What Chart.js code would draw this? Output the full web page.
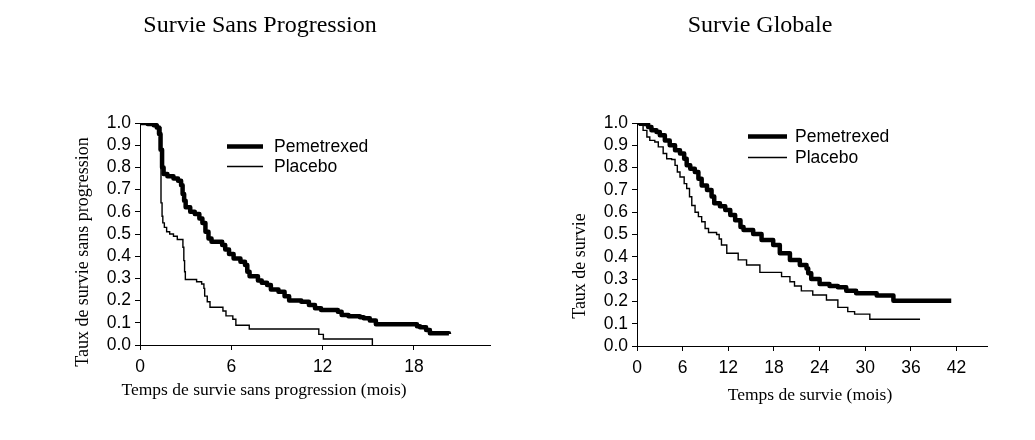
<!DOCTYPE html>
<html><head><meta charset="utf-8">
<script src="https://cdn.jsdelivr.net/npm/chart.js@4/dist/chart.umd.min.js"></script>
<style>
html,body{margin:0;padding:0;background:#fff;}
#wrap{position:relative;width:1035px;height:440px;background:#fff;}
.box{position:absolute;top:0;height:440px;}
</style></head><body>
<div id="wrap">
<div class="box" style="left:0;width:517px"><canvas id="c1" width="517" height="440"></canvas></div>
<div class="box" style="left:517px;width:518px"><canvas id="c2" width="518" height="440"></canvas></div>
</div>
<script>
// ---- Data (months, survival probability) ----
const seriesLabels = ['Pemetrexed', 'Placebo'];

const pfsPemMonths = [0,0.5,0.9,1.1,1.25,1.35,1.45,1.55,1.8,2.2,2.5,2.7,2.8,2.9,3.0,3.3,3.6,3.9,4.1,4.3,4.5,4.7,5.4,5.6,5.85,6.15,6.6,6.9,7.05,7.2,7.75,8.0,8.35,8.6,9.1,9.5,9.8,10.6,11.1,11.5,11.9,13.0,13.25,13.7,14.45,14.7,15.1,15.5,18.2,18.4,18.8,19.05,20.3];
const pfsPemSurv   = [1.0,0.995,0.99,0.98,0.95,0.88,0.80,0.77,0.76,0.75,0.74,0.72,0.68,0.65,0.62,0.60,0.59,0.57,0.55,0.51,0.48,0.465,0.45,0.43,0.41,0.39,0.375,0.36,0.33,0.31,0.29,0.28,0.27,0.25,0.24,0.22,0.20,0.195,0.18,0.165,0.158,0.15,0.135,0.13,0.125,0.12,0.11,0.093,0.085,0.08,0.068,0.053,0.05];

const pfsPlaMonths = [0,0.8,1.2,1.38,1.45,1.5,1.6,1.75,1.95,2.2,2.45,2.82,2.88,2.93,2.98,3.72,4.05,4.2,4.25,4.42,4.6,5.45,5.65,6.1,6.3,7.18,11.75,12.05,15.27];
const pfsPlaSurv   = [1.0,0.99,0.98,0.64,0.58,0.55,0.53,0.51,0.50,0.49,0.475,0.44,0.38,0.33,0.295,0.285,0.275,0.255,0.22,0.195,0.17,0.153,0.131,0.116,0.089,0.072,0.048,0.027,0.0];

const osPemMonths = [0,1.0,1.46,1.9,2.56,3.0,3.66,4.3,5.0,5.65,6.2,6.53,7.0,7.6,8.07,8.5,9.2,9.8,10.15,10.9,11.6,12.26,12.9,13.6,14.0,15.27,16.37,17.9,18.77,20.1,21.4,22.28,22.5,22.9,24.0,25.3,26.4,27.5,28.8,31.5,33.7,41.3];
const osPemSurv   = [1.0,0.995,0.982,0.967,0.96,0.945,0.922,0.90,0.878,0.863,0.84,0.81,0.795,0.78,0.75,0.72,0.70,0.67,0.64,0.627,0.61,0.587,0.564,0.534,0.52,0.502,0.475,0.453,0.416,0.386,0.363,0.348,0.326,0.30,0.278,0.269,0.263,0.248,0.236,0.226,0.203,0.203];

const osPlaMonths = [0,0.35,0.8,1.3,1.68,2.34,2.8,3.44,3.9,4.55,5.0,5.3,5.65,6.2,6.53,6.9,7.2,7.63,8.07,8.5,8.95,9.4,10.46,10.8,11.1,11.8,13.3,14.4,16.15,19.0,20.1,20.7,21.6,23.1,24.9,26.4,27.7,28.6,30.6,37.2];
const osPlaSurv   = [1.0,0.99,0.967,0.937,0.922,0.915,0.893,0.863,0.84,0.836,0.81,0.78,0.758,0.728,0.706,0.669,0.63,0.60,0.58,0.557,0.527,0.509,0.50,0.48,0.453,0.416,0.386,0.363,0.33,0.311,0.288,0.269,0.247,0.229,0.206,0.173,0.154,0.143,0.12,0.12];

const pfsXTicks = [0,6,12,18];
const osXTicks  = [0,6,12,18,24,30,36,42];
const yTicks    = [0,0.1,0.2,0.3,0.4,0.5,0.6,0.7,0.8,0.9,1.0];
const pfsXMax = 23;
const osXMax  = 46;

// ---- helpers ----
const SANS = "'Liberation Sans', Arial, sans-serif";
const SERIF = "'Liberation Serif', 'Times New Roman', serif";
const toPts = (t, s) => t.map((x, i) => ({x: x, y: s[i]}));

const textPlugin = {
  id: 'texts',
  afterDraw(chart, args, o) {
    const ctx = chart.ctx;
    ctx.save();
    ctx.fillStyle = '#000';
    ctx.textBaseline = 'alphabetic';
    ctx.textAlign = 'center';
    ctx.font = '24px ' + SERIF;
    ctx.fillText(o.title, o.titleX, o.titleY);
    ctx.font = '17.5px ' + SERIF;
    ctx.fillText(o.xTitle, o.xTitleX, o.xTitleY);
    ctx.translate(o.yTitleX, o.yTitleY);
    ctx.rotate(-Math.PI / 2);
    ctx.font = '18px ' + SERIF;
    ctx.textBaseline = 'middle';
    ctx.fillText(o.yTitle, 0, 0);
    ctx.restore();
    // legend
    ctx.save();
    ctx.font = '17.5px ' + SANS;
    ctx.textAlign = 'left';
    ctx.textBaseline = 'middle';
    chart.data.datasets.forEach((ds, i) => {
      const y = Math.round(o.legendY[i]) + 0.5;
      ctx.strokeStyle = ds.borderColor;
      ctx.lineWidth = ds.borderWidth;
      ctx.beginPath();
      ctx.moveTo(o.legendX0, y);
      ctx.lineTo(o.legendX1, y);
      ctx.stroke();
      ctx.fillStyle = '#000';
      ctx.fillText(ds.label, o.legendTextX, y + 0.5);
    });
    ctx.restore();
  }
};

function makeChart(id, sets, xTicks, xMax, pad, texts) {
  return new Chart(document.getElementById(id), {
    type: 'line',
    data: {
      datasets: [
        {label: seriesLabels[0], data: sets[0], borderColor: '#000', borderWidth: 4.5, stepped: true, pointRadius: 0, fill: false, borderJoinStyle: 'round'},
        {label: seriesLabels[1], data: sets[1], borderColor: '#000', borderWidth: 1.4, stepped: true, pointRadius: 0, fill: false}
      ]
    },
    options: {
      responsive: false,
      animation: false,
      devicePixelRatio: 1,
      layout: {padding: pad},
      plugins: {legend: {display: false}, tooltip: {enabled: false}, title: {display: false}, texts: texts},
      scales: {
        x: {
          type: 'linear', min: 0, max: xMax,
          afterBuildTicks: s => { s.ticks = xTicks.map(v => ({value: v})); },
          afterFit: s => { s.height = 40; },
          grid: {drawOnChartArea: false, drawTicks: true, tickLength: 5, color: '#000', lineWidth: 1},
          border: {display: true, color: '#000', width: 1},
          ticks: {color: '#000', font: {family: SANS, size: 17.5}, padding: 7, maxRotation: 0, autoSkip: false}
        },
        y: {
          type: 'linear', min: 0, max: 1,
          afterBuildTicks: s => { s.ticks = yTicks.map(v => ({value: v})); },
          afterFit: s => { s.width = 40; },
          grid: {drawOnChartArea: false, drawTicks: true, tickLength: 5, color: '#000', lineWidth: 1},
          border: {display: true, color: '#000', width: 1},
          ticks: {color: '#000', font: {family: SANS, size: 17.5}, padding: 4, autoSkip: false, callback: v => Number(v).toFixed(1)}
        }
      }
    },
    plugins: [textPlugin]
  });
}

makeChart('c1', [toPts(pfsPemMonths, pfsPemSurv), toPts(pfsPlaMonths, pfsPlaSurv)], pfsXTicks, pfsXMax,
  {left: 100, right: 27, top: 123, bottom: 55},
  {title: 'Survie Sans Progression', titleX: 260, titleY: 32,
   xTitle: 'Temps de survie sans progression (mois)', xTitleX: 264, xTitleY: 395,
   yTitle: 'Taux de survie sans progression', yTitleX: 83, yTitleY: 252,
   legendX0: 227, legendX1: 263, legendTextX: 274, legendY: [146, 166]});

makeChart('c2', [toPts(osPemMonths, osPemSurv), toPts(osPlaMonths, osPlaSurv)], osXTicks, osXMax,
  {left: 80, right: 48, top: 123, bottom: 54},
  {title: 'Survie Globale', titleX: 243, titleY: 32,
   xTitle: 'Temps de survie (mois)', xTitleX: 293, xTitleY: 400,
   yTitle: 'Taux de survie', yTitleX: 63, yTitleY: 266,
   legendX0: 231, legendX1: 270, legendTextX: 278, legendY: [136, 157]});
</script>
</body></html>
